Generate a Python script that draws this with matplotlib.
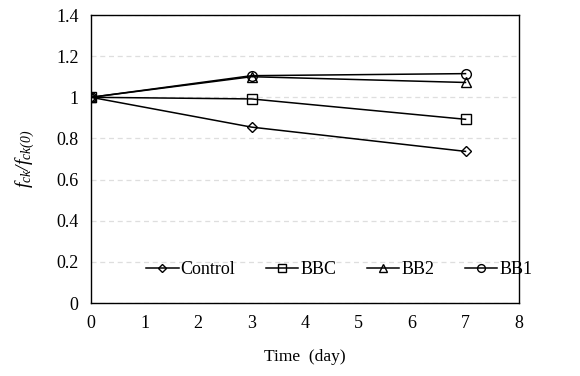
import matplotlib
matplotlib.use("Agg")
import matplotlib.pyplot as plt

plt.rcParams['font.family'] = ['Liberation Serif', 'DejaVu Serif']
plt.rcParams['mathtext.fontset'] = 'custom'
plt.rcParams['mathtext.it'] = 'Liberation Serif:italic'
plt.rcParams['mathtext.rm'] = 'Liberation Serif:italic'

days = [0, 3, 7]
control = [1.0, 0.855, 0.737]
bbc = [1.0, 0.992, 0.893]
bb2 = [1.0, 1.100, 1.072]
bb1 = [1.0, 1.105, 1.115]

series = [("Control", control, "D", 5),
          ("BBC", bbc, "s", 7),
          ("BB2", bb2, "^", 7),
          ("BB1", bb1, "o", 7)]

fig = plt.figure(figsize=(5.8, 3.76), dpi=100)
ax = fig.add_axes([91/580, 1 - 303/376, 428/580, 288/376])

for name, vals, mk, ms in series:
    ax.plot(days, vals, color='black', lw=1.1, marker=mk, ms=ms,
            mfc='none', mec='black', mew=1.0, label=name)

ax.set_xlim(0, 8)
ax.set_ylim(0, 1.4)
ax.set_xticks(range(0, 9))
ax.set_yticks([0, 0.2, 0.4, 0.6, 0.8, 1.0, 1.2, 1.4])
ax.set_yticklabels(['0', '0.2', '0.4', '0.6', '0.8', '1', '1.2', '1.4'])
ax.tick_params(length=0, labelsize=13, pad=9)
ax.yaxis.grid(True, ls=(0, (4, 3)), color='#dedede', lw=0.9)
ax.set_axisbelow(True)
for s in ax.spines.values():
    s.set_linewidth(1.0)

ax.set_xlabel('Time  (day)', fontsize=12.5, labelpad=12)
ax.set_ylabel(r'$f_{ck}/f_{ck(0)}$', fontsize=14, labelpad=14)

ax.legend(loc='lower center', bbox_to_anchor=(0.58, 0.03), ncol=4, frameon=False,
          fontsize=13, handlelength=1.8, handletextpad=0.1, columnspacing=1.7,
          markerscale=0.8)

fig.savefig('out.png', dpi=100)
